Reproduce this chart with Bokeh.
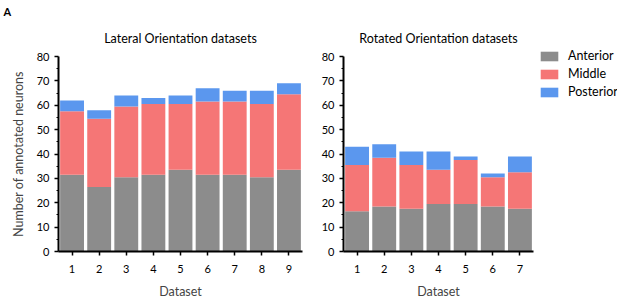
from bokeh.plotting import figure
from bokeh.layouts import row
from bokeh.models import (Range1d, ColumnDataSource, Legend, LegendItem,
                          FixedTicker, Title)
from bokeh.embed import file_html
from bokeh.resources import INLINE

# ---- data (stack segments) ----
lat_datasets = [1, 2, 3, 4, 5, 6, 7, 8, 9]
lat_anterior = [31.5, 26.5, 30.5, 31.5, 33.5, 31.5, 31.5, 30.5, 33.5]
lat_middle = [26.0, 28.0, 29.0, 29.0, 27.0, 30.0, 30.0, 30.0, 31.0]
lat_posterior = [4.5, 3.5, 4.5, 2.5, 3.5, 5.5, 4.5, 5.5, 4.5]

rot_datasets = [1, 2, 3, 4, 5, 6, 7]
rot_anterior = [16.5, 18.5, 17.5, 19.5, 19.5, 18.5, 17.5]
rot_middle = [19.0, 20.0, 18.0, 14.0, 18.0, 12.0, 15.0]
rot_posterior = [7.5, 5.5, 5.5, 7.5, 1.5, 1.5, 6.5]

categories = ["Anterior", "Middle", "Posterior"]
colors = ["#8c8c8c", "#f57676", "#5b97ee"]
y_ticks = [0, 10, 20, 30, 40, 50, 60, 70, 80]

FONT = "Lato"
FH = 195


def make_fig(x, a, m, po, title, left, right, show_ylabel):
    fw = int(round(len(x) * 27.1))
    p = figure(output_backend="svg", toolbar_location=None,
               x_range=Range1d(0.5, len(x) + 0.5), y_range=Range1d(0, 80),
               frame_height=FH, frame_width=fw,
               min_border_left=left, min_border_right=right,
               min_border_top=56, min_border_bottom=46)
    src = ColumnDataSource(dict(x=x, Anterior=a, Middle=m, Posterior=po))
    rs = p.vbar_stack(categories, x="x", width=0.88, color=colors, source=src,
                      line_color=None)
    p.outline_line_color = None
    p.grid.visible = False
    p.background_fill_color = "white"
    p.border_fill_color = "white"
    for ax in (p.xaxis[0], p.yaxis[0]):
        ax.axis_line_width = 2
        ax.axis_line_color = "black"
        ax.major_tick_line_width = 1.5
        ax.major_tick_out = 4
        ax.major_tick_in = 0
        ax.minor_tick_out = 2
        ax.minor_tick_in = 0
        ax.major_label_text_font = FONT
        ax.major_label_text_font_size = "11px"
        ax.major_label_text_color = "black"
        ax.axis_label_text_font = FONT
        ax.axis_label_text_font_size = "12.5px"
        ax.axis_label_text_font_style = "normal"
    p.xaxis[0].ticker = FixedTicker(ticks=x)
    p.xaxis[0].major_label_standoff = 9
    p.xaxis[0].axis_label = "Dataset"
    p.xaxis[0].axis_label_standoff = 8
    p.yaxis[0].ticker = FixedTicker(ticks=y_ticks, minor_ticks=[5, 15, 25, 35, 45, 55, 65, 75])
    p.yaxis[0].major_label_standoff = 5
    if show_ylabel:
        p.yaxis[0].axis_label = "Number of annotated neurons"
        p.yaxis[0].axis_label_standoff = 8
    # spacer (closest to frame), then the chart title
    p.add_layout(Title(text="", text_font_size="1px", standoff=6), "above")
    p.add_layout(Title(text=title, align="center", text_font=FONT,
                       text_font_size="12.5px", text_font_style="normal",
                       text_color="black", standoff=22), "above")
    return p, rs


p1, rs1 = make_fig(lat_datasets, lat_anterior, lat_middle, lat_posterior,
                   "Lateral Orientation datasets", 58, 8, True)
p2, rs2 = make_fig(rot_datasets, rot_anterior, rot_middle, rot_posterior,
                   "Rotated Orientation datasets", 33, 0, False)

p1.title = Title(text="A", align="left", offset=-55, text_font=FONT,
                 text_font_size="11px", text_font_style="bold",
                 text_color="black", standoff=0)

legend = Legend(items=[LegendItem(label=c, renderers=[r]) for c, r in zip(categories, rs2)],
                location=(5, 152), orientation="vertical",
                glyph_width=22, glyph_height=12, label_height=12, spacing=3,
                label_standoff=8, padding=0, margin=0,
                border_line_color=None, background_fill_alpha=0,
                label_text_font=FONT, label_text_font_size="12.5px",
                label_text_color="black")
p2.add_layout(legend, "right")

layout = row(p1, p2)
open("out.html", "w").write(file_html(layout, INLINE))
